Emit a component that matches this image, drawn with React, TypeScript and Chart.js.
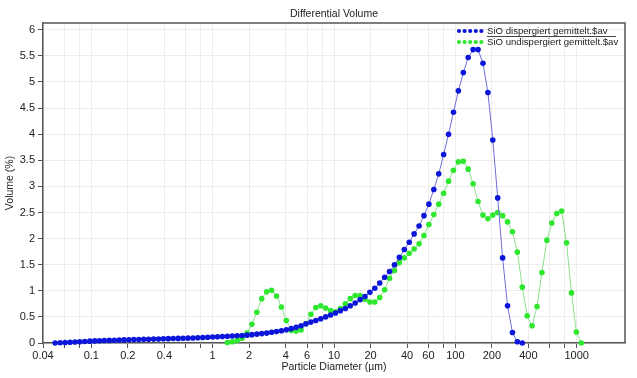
import React, { useEffect, useRef } from "react";
import { Chart, registerables } from "chart.js";

Chart.register(...registerables);

// Channel mid-point diameters (µm)
const diameters = [
  0.0504, 0.0554, 0.0609, 0.0669, 0.0734, 0.0804, 0.0884, 0.0974, 0.1069, 0.1169,
  0.1279, 0.1408, 0.1548, 0.1698, 0.1863, 0.2043, 0.2243, 0.2462, 0.2702, 0.2967,
  0.3261, 0.3581, 0.3931, 0.4315, 0.4735, 0.5199, 0.5709, 0.6268, 0.6883, 0.7552,
  0.8291, 0.91, 0.9989, 1.097, 1.204, 1.322, 1.451, 1.593, 1.749, 1.919,
  2.106, 2.313, 2.539, 2.787, 3.059, 3.358, 3.687, 4.047, 4.443, 4.877,
  5.354, 5.878, 6.452, 7.083, 7.776, 8.536, 9.37, 10.29, 11.29, 12.4,
  13.61, 14.94, 16.4, 18.0, 19.76, 21.69, 23.81, 26.14, 28.7, 31.5,
  34.59, 37.97, 41.68, 45.76, 50.23, 55.14, 60.53, 66.44, 72.94, 80.07,
  87.9, 96.49, 105.9, 116.3, 127.6, 140.1, 153.8, 168.9, 185.4, 203.5,
  223.4, 245.2, 269.2, 295.5, 324.4, 356.1, 390.9, 429.2, 471.1, 517.2,
  567.8, 623.3, 684.2, 751.0, 824.5, 905.1, 993.6, 1091,
];

const seriesNames = ["SiO dispergiert gemittelt.$av", "SiO undispergiert gemittelt.$av"];

const dispersedStart = 0;
const dispersedVolume = [
  0, 0.005, 0.01, 0.015, 0.02, 0.025, 0.03, 0.035, 0.04, 0.043,
  0.047, 0.05, 0.053, 0.056, 0.059, 0.062, 0.065, 0.068, 0.07, 0.073,
  0.075, 0.078, 0.08, 0.083, 0.085, 0.088, 0.09, 0.093, 0.095, 0.1,
  0.105, 0.11, 0.115, 0.12, 0.125, 0.13, 0.135, 0.14, 0.145, 0.15,
  0.16, 0.17, 0.18, 0.19, 0.205, 0.22, 0.235, 0.255, 0.275, 0.3,
  0.33, 0.37, 0.4, 0.43, 0.465, 0.5, 0.535, 0.575, 0.62, 0.66,
  0.715, 0.766, 0.83, 0.89, 0.97, 1.05, 1.15, 1.26, 1.37, 1.5,
  1.64, 1.79, 1.93, 2.09, 2.24, 2.44, 2.66, 2.94, 3.24, 3.61,
  4.0, 4.42, 4.83, 5.18, 5.47, 5.62, 5.62, 5.36, 4.8, 3.89,
  2.78, 1.63, 0.715, 0.2, 0.025, 0,
];

const undispersedStart = 35;
const undispersedVolume = [
  0.01, 0.025, 0.05, 0.09, 0.19, 0.36, 0.59, 0.85, 0.98, 1.01,
  0.9, 0.69, 0.43, 0.24, 0.23, 0.25, 0.37, 0.55, 0.68, 0.715,
  0.67, 0.62, 0.6, 0.66, 0.75, 0.85, 0.91, 0.91, 0.84, 0.785,
  0.785, 0.87, 1.02, 1.24, 1.39, 1.54, 1.63, 1.72, 1.8, 1.9,
  2.06, 2.27, 2.46, 2.66, 2.87, 3.1, 3.31, 3.47, 3.48, 3.33,
  3.05, 2.71, 2.45, 2.38, 2.45, 2.5, 2.44, 2.32, 2.13, 1.74,
  1.07, 0.52, 0.33, 0.7, 1.35, 1.97, 2.3, 2.48, 2.53, 1.92,
  0.96, 0.21, 0,
];

const xTickValues = [0.04, 0.06, 0.08, 0.1, 0.2, 0.4, 0.6, 0.8, 1, 2, 4, 6, 8, 10, 20, 40, 60, 80, 100, 200, 400, 600, 800, 1000];
const xTickLabels = ["0.04", "", "", "0.1", "0.2", "0.4", "", "", "1", "2", "4", "6", "", "10", "20", "40", "60", "", "100", "200", "400", "", "", "1000"];
const yTickValues = [0, 0.5, 1, 1.5, 2, 2.5, 3, 3.5, 4, 4.5, 5, 5.5, 6];
const yTickLabels = ["0", "0.5", "1", "1.5", "2", "2.5", "3", "3.5", "4", "4.5", "5", "5.5", "6"];

const chartTitle = "Differential Volume";
const xTitle = "Particle Diameter (µm)";
const yTitle = "Volume (%)";

const FONT = '"Liberation Sans", Arial, Helvetica, sans-serif';
const TEXT = "#222";
const AXIS = "#555";
const GRID = "#ececec";
const BLUE_PT = "#0c16da";
const BLUE_LN = "#6e6ed6";
const GREEN_PT = "#2ee82e";
const GREEN_LN = "#8ee08e";

const decorPlugin = {
  id: "decor",
  beforeDatasetsDraw(chart: any) {
    const { ctx, chartArea } = chart;
    ctx.save();
    ctx.strokeStyle = AXIS;
    ctx.lineWidth = 1.5;
    ctx.beginPath();
    ctx.moveTo(chartArea.left, chartArea.top);
    ctx.lineTo(chartArea.right, chartArea.top);
    ctx.lineTo(chartArea.right, chartArea.bottom);
    ctx.stroke();
    ctx.restore();
  },
  afterDraw(chart: any) {
    const { ctx, chartArea } = chart;
    const cx = (chartArea.left + chartArea.right) / 2;
    ctx.save();
    ctx.fillStyle = TEXT;
    ctx.textBaseline = "middle";
    ctx.textAlign = "center";
    ctx.font = `10.5px ${FONT}`;
    ctx.fillText(chartTitle, cx, 14);
    ctx.font = `10.5px ${FONT}`;
    ctx.fillText(xTitle, cx, 367);
    ctx.save();
    ctx.translate(10, (chartArea.top + chartArea.bottom) / 2);
    ctx.rotate(-Math.PI / 2);
    ctx.fillText(yTitle, 0, 0);
    ctx.restore();

    // legend
    const items = [
      { name: seriesNames[0], color: BLUE_PT, y: 31 },
      { name: seriesNames[1], color: GREEN_PT, y: 42 },
    ];
    ctx.textAlign = "left";
    ctx.font = `9.6px ${FONT}`;
    items.forEach((it, idx) => {
      ctx.fillStyle = it.color;
      for (let k = 0; k < 5; k++) {
        ctx.beginPath();
        ctx.arc(459 + k * 5.6, it.y, 2.1, 0, Math.PI * 2);
        ctx.fill();
      }
      ctx.fillStyle = TEXT;
      ctx.fillText(it.name, 487, it.y);
      if (idx === 0) {
        ctx.strokeStyle = "#444";
        ctx.lineWidth = 1;
        ctx.beginPath();
        ctx.moveTo(487, it.y + 5.5);
        ctx.lineTo(616, it.y + 5.5);
        ctx.stroke();
      }
    });
    ctx.restore();
  },
};

export default function App() {
  const ref = useRef<HTMLCanvasElement>(null);
  useEffect(() => {
    const canvas = ref.current;
    if (!canvas) return;
    const chart = new Chart(canvas, {
      type: "line",
      data: {
        datasets: [
          {
            label: seriesNames[0],
            data: dispersedVolume.map((v, i) => ({ x: diameters[dispersedStart + i], y: v })),
            borderColor: BLUE_LN,
            borderWidth: 1,
            pointBackgroundColor: BLUE_PT,
            pointBorderColor: BLUE_PT,
            pointBorderWidth: 0,
            pointRadius: 2.8,
            tension: 0,
            clip: false,
          } as any,
          {
            label: seriesNames[1],
            data: undispersedVolume.map((v, i) => ({ x: diameters[undispersedStart + i], y: v })),
            borderColor: GREEN_LN,
            borderWidth: 1,
            pointBackgroundColor: GREEN_PT,
            pointBorderColor: GREEN_PT,
            pointBorderWidth: 0,
            pointRadius: 2.8,
            tension: 0,
            clip: false,
          } as any,
        ],
      },
      options: {
        animation: false,
        responsive: false,
        devicePixelRatio: 1,
        layout: { padding: { top: 23, right: 12, left: 0, bottom: 0 } },
        plugins: {
          legend: { display: false },
          title: { display: false },
          tooltip: { enabled: false },
        },
        scales: {
          x: {
            type: "logarithmic",
            min: 0.04,
            max: 2500,
            afterBuildTicks: (s: any) => {
              s.ticks = xTickValues.map((v) => ({ value: v }));
            },
            afterFit: (s: any) => {
              s.height = 35;
            },
            ticks: {
              autoSkip: false,
              maxRotation: 0,
              minRotation: 0,
              padding: 1,
              color: TEXT,
              font: { family: FONT, size: 11 },
              callback: (_v: any, i: number) => xTickLabels[i],
            },
            grid: { color: GRID, lineWidth: 1, tickLength: 5, tickColor: AXIS, drawTicks: true },
            border: { color: AXIS, width: 1.5 },
          },
          y: {
            type: "linear",
            min: 0,
            max: 6.13,
            afterBuildTicks: (s: any) => {
              s.ticks = yTickValues.map((v) => ({ value: v }));
            },
            afterFit: (s: any) => {
              s.width = 43;
            },
            ticks: {
              autoSkip: false,
              padding: 3,
              color: TEXT,
              font: { family: FONT, size: 11 },
              callback: (_v: any, i: number) => yTickLabels[i],
            },
            grid: { color: GRID, lineWidth: 1, tickLength: 5, tickColor: AXIS, drawTicks: true },
            border: { color: AXIS, width: 1.5 },
          },
        },
      } as any,
      plugins: [decorPlugin],
    });
    return () => chart.destroy();
  }, []);
  return (
    <div style={{ position: "absolute", left: 0, top: 0, width: 637, height: 378, background: "#fff" }}>
      <canvas ref={ref} width={637} height={378} style={{ display: "block", width: 637, height: 378 }} />
    </div>
  );
}
